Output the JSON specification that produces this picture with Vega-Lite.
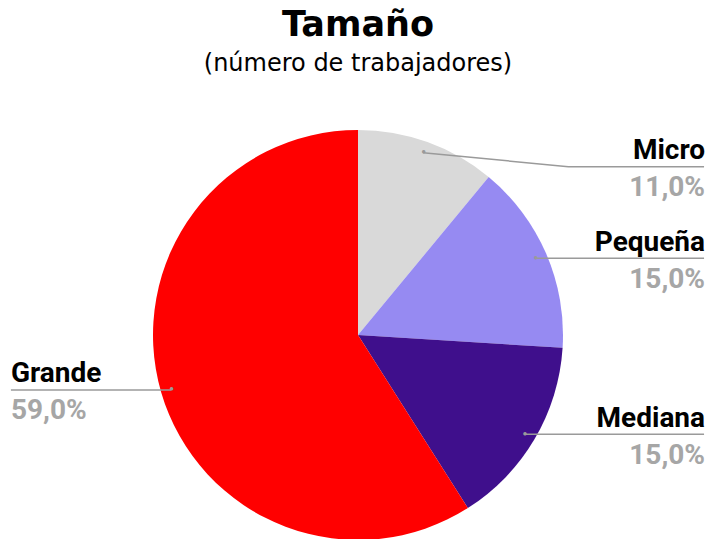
{
  "$schema": "https://vega.github.io/schema/vega-lite/v6.json",
  "autosize": "none",
  "width": 704,
  "height": 410,
  "padding": {"left": 6, "top": 130, "right": 0, "bottom": 0},
  "background": "white",
  "config": {
    "view": {"stroke": null},
    "locale": {"number": {"decimal": ",", "thousands": ".", "grouping": [3], "currency": ["", " €"]}}
  },
  "title": {
    "text": "Tamaño",
    "subtitle": "(número de trabajadores)",
    "anchor": "middle",
    "frame": "group",
    "offset": 54,
    "font": "DejaVu Sans",
    "fontSize": 35,
    "fontWeight": "bold",
    "color": "#000000",
    "subtitleFont": "DejaVu Sans",
    "subtitleFontSize": 24,
    "subtitleColor": "#000000",
    "subtitlePadding": 9.5
  },
  "datasets": {
    "slices": [
      {"tamano": "Micro", "share": 0.11, "ord": 1, "lx": 1.688, "ly": 0.821, "side": "right"},
      {"tamano": "Pequeña", "share": 0.15, "ord": 2, "lx": 1.688, "ly": 0.374, "side": "right"},
      {"tamano": "Mediana", "share": 0.15, "ord": 3, "lx": 1.688, "ly": -0.484, "side": "right"},
      {"tamano": "Grande", "share": 0.59, "ord": 4, "lx": -1.693, "ly": -0.268, "side": "left"}
    ],
    "leaders": [
      {"tamano": "Micro", "i": 1, "x": 0.318, "y": 0.889},
      {"tamano": "Micro", "i": 2, "x": 1.026, "y": 0.821},
      {"tamano": "Micro", "i": 3, "x": 1.688, "y": 0.821},
      {"tamano": "Pequeña", "i": 1, "x": 0.868, "y": 0.374},
      {"tamano": "Pequeña", "i": 2, "x": 1.688, "y": 0.374},
      {"tamano": "Mediana", "i": 1, "x": 0.815, "y": -0.484},
      {"tamano": "Mediana", "i": 2, "x": 1.688, "y": -0.484},
      {"tamano": "Grande", "i": 1, "x": -0.912, "y": -0.268},
      {"tamano": "Grande", "i": 2, "x": -1.693, "y": -0.268}
    ]
  },
  "layer": [
    {
      "data": {"name": "slices"},
      "mark": {"type": "arc", "radius": 205, "strokeWidth": 0},
      "encoding": {
        "theta": {"field": "share", "type": "quantitative", "stack": true},
        "order": {"field": "ord", "type": "quantitative"},
        "color": {
          "field": "tamano",
          "type": "nominal",
          "scale": {"domain": ["Micro", "Pequeña", "Mediana", "Grande"], "range": ["#d9d9d9", "#968af2", "#3f0f8c", "#ff0000"]},
          "legend": null
        }
      }
    },
    {
      "data": {"name": "leaders"},
      "mark": {"type": "line", "color": "#9a9a9a", "strokeWidth": 1.5},
      "encoding": {
        "x": {"field": "x", "type": "quantitative", "scale": {"domain": [-1.717, 1.717], "nice": false, "zero": false}, "axis": null},
        "y": {"field": "y", "type": "quantitative", "scale": {"domain": [-1, 1], "nice": false, "zero": false}, "axis": null},
        "detail": {"field": "tamano"},
        "order": {"field": "i", "type": "quantitative"}
      }
    },
    {
      "data": {"name": "slices"},
      "mark": {"type": "text", "radius": 194, "text": "●", "fontSize": 8, "color": "#9a9a9a", "align": "center", "baseline": "middle"},
      "encoding": {
        "theta": {"field": "share", "type": "quantitative", "stack": true},
        "order": {"field": "ord", "type": "quantitative"}
      }
    },
    {
      "data": {"name": "slices"},
      "transform": [{"filter": "datum.side === 'right'"}],
      "layer": [
        {
          "mark": {"type": "text", "align": "right", "baseline": "alphabetic", "dx": 1, "dy": -7.5, "font": "Roboto", "fontWeight": "bold", "fontSize": 28, "color": "#000000"},
          "encoding": {
            "x": {"field": "lx", "type": "quantitative"},
            "y": {"field": "ly", "type": "quantitative"},
            "text": {"field": "tamano"}
          }
        },
        {
          "mark": {"type": "text", "align": "right", "baseline": "alphabetic", "dx": 1, "dy": 29.5, "font": "Roboto", "fontWeight": "bold", "fontSize": 28, "color": "#a6a6a6"},
          "encoding": {
            "x": {"field": "lx", "type": "quantitative"},
            "y": {"field": "ly", "type": "quantitative"},
            "text": {"field": "share", "format": ".1%"}
          }
        }
      ]
    },
    {
      "data": {"name": "slices"},
      "transform": [{"filter": "datum.side === 'left'"}],
      "layer": [
        {
          "mark": {"type": "text", "align": "left", "baseline": "alphabetic", "dy": -7.5, "font": "Roboto", "fontWeight": "bold", "fontSize": 28, "color": "#000000"},
          "encoding": {
            "x": {"field": "lx", "type": "quantitative"},
            "y": {"field": "ly", "type": "quantitative"},
            "text": {"field": "tamano"}
          }
        },
        {
          "mark": {"type": "text", "align": "left", "baseline": "alphabetic", "dy": 29.5, "font": "Roboto", "fontWeight": "bold", "fontSize": 28, "color": "#a6a6a6"},
          "encoding": {
            "x": {"field": "lx", "type": "quantitative"},
            "y": {"field": "ly", "type": "quantitative"},
            "text": {"field": "share", "format": ".1%"}
          }
        }
      ]
    }
  ]
}
